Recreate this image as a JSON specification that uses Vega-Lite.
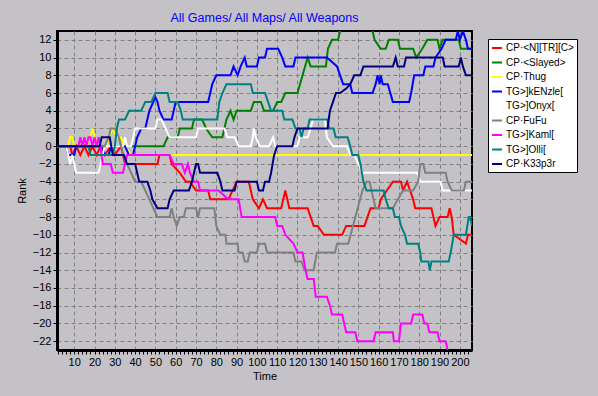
{
  "$schema": "https://vega.github.io/schema/vega-lite/v6.json",
  "width": 415,
  "height": 319,
  "autosize": {"type": "none"},
  "padding": {"left": 57, "top": 31, "right": 126, "bottom": 46},
  "background": "#c4c2c6",
  "title": {"text": "All Games/ All Maps/ All Weapons", "color": "#0000ff", "font": "Liberation Sans", "fontSize": 12.5, "fontWeight": "normal", "anchor": "middle", "offset": 7},
  "config": {
    "view": {"stroke": "#000000", "strokeWidth": 2, "fill": "#c4c2c6"},
    "axis": {"labelFont": "Liberation Sans", "labelFontSize": 11, "labelColor": "#000", "titleFont": "Liberation Sans", "titleFontSize": 11, "titleFontWeight": "normal", "titleColor": "#000", "domainColor": "#000", "domainWidth": 3, "tickColor": "#000", "tickSize": 4, "gridColor": "#808080", "gridDash": [4, 3], "gridWidth": 1, "labelPadding": 2}
  },
  "data": {"values": [
    {"s":"CP·<N][TR][C>","t":1,"r":0},{"s":"CP·<N][TR][C>","t":8,"r":0},{"s":"CP·<N][TR][C>","t":9,"r":-1},{"s":"CP·<N][TR][C>","t":11,"r":0},{"s":"CP·<N][TR][C>","t":13,"r":-1},{"s":"CP·<N][TR][C>","t":15,"r":0},{"s":"CP·<N][TR][C>","t":17,"r":-1},{"s":"CP·<N][TR][C>","t":19,"r":0},{"s":"CP·<N][TR][C>","t":21,"r":-1},{"s":"CP·<N][TR][C>","t":23,"r":0},{"s":"CP·<N][TR][C>","t":25,"r":-1},{"s":"CP·<N][TR][C>","t":28,"r":0},{"s":"CP·<N][TR][C>","t":30,"r":-1},{"s":"CP·<N][TR][C>","t":33,"r":0},{"s":"CP·<N][TR][C>","t":35,"r":-2},{"s":"CP·<N][TR][C>","t":51,"r":-2},{"s":"CP·<N][TR][C>","t":52,"r":-1},{"s":"CP·<N][TR][C>","t":57,"r":-1},{"s":"CP·<N][TR][C>","t":58,"r":-2},{"s":"CP·<N][TR][C>","t":62,"r":-3},{"s":"CP·<N][TR][C>","t":65,"r":-4},{"s":"CP·<N][TR][C>","t":67,"r":-4},{"s":"CP·<N][TR][C>","t":70,"r":-5},{"s":"CP·<N][TR][C>","t":76,"r":-5},{"s":"CP·<N][TR][C>","t":77,"r":-6},{"s":"CP·<N][TR][C>","t":86,"r":-6},{"s":"CP·<N][TR][C>","t":90,"r":-4},{"s":"CP·<N][TR][C>","t":96,"r":-4},{"s":"CP·<N][TR][C>","t":98,"r":-6},{"s":"CP·<N][TR][C>","t":101,"r":-7},{"s":"CP·<N][TR][C>","t":103,"r":-6},{"s":"CP·<N][TR][C>","t":105,"r":-7},{"s":"CP·<N][TR][C>","t":112,"r":-7},{"s":"CP·<N][TR][C>","t":114,"r":-5},{"s":"CP·<N][TR][C>","t":116,"r":-7},{"s":"CP·<N][TR][C>","t":125,"r":-7},{"s":"CP·<N][TR][C>","t":128,"r":-9},{"s":"CP·<N][TR][C>","t":130,"r":-9},{"s":"CP·<N][TR][C>","t":133,"r":-10},{"s":"CP·<N][TR][C>","t":142,"r":-10},{"s":"CP·<N][TR][C>","t":144,"r":-9},{"s":"CP·<N][TR][C>","t":153,"r":-9},{"s":"CP·<N][TR][C>","t":156,"r":-7},{"s":"CP·<N][TR][C>","t":160,"r":-7},{"s":"CP·<N][TR][C>","t":161,"r":-6},{"s":"CP·<N][TR][C>","t":167,"r":-4},{"s":"CP·<N][TR][C>","t":171,"r":-4},{"s":"CP·<N][TR][C>","t":172,"r":-5},{"s":"CP·<N][TR][C>","t":174,"r":-4},{"s":"CP·<N][TR][C>","t":177,"r":-6},{"s":"CP·<N][TR][C>","t":178,"r":-7},{"s":"CP·<N][TR][C>","t":186,"r":-7},{"s":"CP·<N][TR][C>","t":188,"r":-9},{"s":"CP·<N][TR][C>","t":190,"r":-8},{"s":"CP·<N][TR][C>","t":194,"r":-8},{"s":"CP·<N][TR][C>","t":195,"r":-7},{"s":"CP·<N][TR][C>","t":196,"r":-8},{"s":"CP·<N][TR][C>","t":197,"r":-10},{"s":"CP·<N][TR][C>","t":203,"r":-11},{"s":"CP·<N][TR][C>","t":204,"r":-10},{"s":"CP·<N][TR][C>","t":206,"r":-10},
    {"s":"CP·<Slayed>","t":1,"r":0},{"s":"CP·<Slayed>","t":54,"r":0},{"s":"CP·<Slayed>","t":56,"r":1},{"s":"CP·<Slayed>","t":61,"r":1},{"s":"CP·<Slayed>","t":62,"r":2},{"s":"CP·<Slayed>","t":68,"r":2},{"s":"CP·<Slayed>","t":69,"r":3},{"s":"CP·<Slayed>","t":73,"r":3},{"s":"CP·<Slayed>","t":75,"r":2},{"s":"CP·<Slayed>","t":78,"r":1},{"s":"CP·<Slayed>","t":83,"r":1},{"s":"CP·<Slayed>","t":85,"r":3},{"s":"CP·<Slayed>","t":87,"r":4},{"s":"CP·<Slayed>","t":88.5,"r":3},{"s":"CP·<Slayed>","t":90,"r":4},{"s":"CP·<Slayed>","t":97,"r":4},{"s":"CP·<Slayed>","t":98.5,"r":5},{"s":"CP·<Slayed>","t":102,"r":5},{"s":"CP·<Slayed>","t":103.5,"r":4},{"s":"CP·<Slayed>","t":108,"r":4},{"s":"CP·<Slayed>","t":110,"r":5},{"s":"CP·<Slayed>","t":112,"r":5},{"s":"CP·<Slayed>","t":114,"r":6},{"s":"CP·<Slayed>","t":120,"r":6},{"s":"CP·<Slayed>","t":125,"r":10},{"s":"CP·<Slayed>","t":126.5,"r":9},{"s":"CP·<Slayed>","t":134,"r":9},{"s":"CP·<Slayed>","t":135,"r":11},{"s":"CP·<Slayed>","t":137,"r":12},{"s":"CP·<Slayed>","t":140,"r":12},{"s":"CP·<Slayed>","t":142,"r":14},{"s":"CP·<Slayed>","t":156,"r":14},{"s":"CP·<Slayed>","t":158,"r":12},{"s":"CP·<Slayed>","t":161,"r":11},{"s":"CP·<Slayed>","t":163.5,"r":11},{"s":"CP·<Slayed>","t":165,"r":12},{"s":"CP·<Slayed>","t":169.5,"r":12},{"s":"CP·<Slayed>","t":170.5,"r":11},{"s":"CP·<Slayed>","t":177,"r":11},{"s":"CP·<Slayed>","t":178.5,"r":10},{"s":"CP·<Slayed>","t":181.5,"r":11},{"s":"CP·<Slayed>","t":184,"r":12},{"s":"CP·<Slayed>","t":189,"r":12},{"s":"CP·<Slayed>","t":190,"r":11},{"s":"CP·<Slayed>","t":191.5,"r":12},{"s":"CP·<Slayed>","t":199.5,"r":12},{"s":"CP·<Slayed>","t":200.5,"r":11},{"s":"CP·<Slayed>","t":206,"r":11},
    {"s":"CP·Thug","t":1,"r":0},{"s":"CP·Thug","t":7,"r":0},{"s":"CP·Thug","t":8,"r":1},{"s":"CP·Thug","t":9,"r":1},{"s":"CP·Thug","t":10,"r":0},{"s":"CP·Thug","t":16,"r":0},{"s":"CP·Thug","t":17,"r":1},{"s":"CP·Thug","t":18,"r":1},{"s":"CP·Thug","t":19,"r":2},{"s":"CP·Thug","t":20,"r":1},{"s":"CP·Thug","t":21,"r":0},{"s":"CP·Thug","t":26,"r":0},{"s":"CP·Thug","t":27,"r":1},{"s":"CP·Thug","t":29,"r":2},{"s":"CP·Thug","t":31,"r":1},{"s":"CP·Thug","t":33,"r":1},{"s":"CP·Thug","t":35,"r":0},{"s":"CP·Thug","t":38,"r":-1},{"s":"CP·Thug","t":206,"r":-1},
    {"s":"TG>]kENzle[","t":1,"r":0},{"s":"TG>]kENzle[","t":6,"r":0},{"s":"TG>]kENzle[","t":7,"r":-1},{"s":"TG>]kENzle[","t":10,"r":-1},{"s":"TG>]kENzle[","t":11,"r":0},{"s":"TG>]kENzle[","t":24,"r":0},{"s":"TG>]kENzle[","t":25,"r":-1},{"s":"TG>]kENzle[","t":27,"r":-1},{"s":"TG>]kENzle[","t":28,"r":0},{"s":"TG>]kENzle[","t":35,"r":0},{"s":"TG>]kENzle[","t":37,"r":-1},{"s":"TG>]kENzle[","t":39,"r":-1},{"s":"TG>]kENzle[","t":41,"r":1},{"s":"TG>]kENzle[","t":43,"r":2},{"s":"TG>]kENzle[","t":45,"r":2},{"s":"TG>]kENzle[","t":47,"r":4},{"s":"TG>]kENzle[","t":49,"r":5},{"s":"TG>]kENzle[","t":50,"r":5.5},{"s":"TG>]kENzle[","t":51,"r":5},{"s":"TG>]kENzle[","t":52,"r":4},{"s":"TG>]kENzle[","t":54,"r":3},{"s":"TG>]kENzle[","t":58,"r":3},{"s":"TG>]kENzle[","t":60,"r":5},{"s":"TG>]kENzle[","t":76,"r":5},{"s":"TG>]kENzle[","t":78,"r":7},{"s":"TG>]kENzle[","t":80,"r":8},{"s":"TG>]kENzle[","t":87,"r":8},{"s":"TG>]kENzle[","t":88.5,"r":9},{"s":"TG>]kENzle[","t":90.5,"r":8},{"s":"TG>]kENzle[","t":92,"r":9},{"s":"TG>]kENzle[","t":94,"r":10},{"s":"TG>]kENzle[","t":95,"r":9},{"s":"TG>]kENzle[","t":100,"r":9},{"s":"TG>]kENzle[","t":101,"r":10},{"s":"TG>]kENzle[","t":104,"r":10},{"s":"TG>]kENzle[","t":105,"r":11},{"s":"TG>]kENzle[","t":110.5,"r":11},{"s":"TG>]kENzle[","t":112.5,"r":10},{"s":"TG>]kENzle[","t":114,"r":9},{"s":"TG>]kENzle[","t":118,"r":9},{"s":"TG>]kENzle[","t":119,"r":10},{"s":"TG>]kENzle[","t":134.5,"r":10},{"s":"TG>]kENzle[","t":139.5,"r":9},{"s":"TG>]kENzle[","t":141,"r":8},{"s":"TG>]kENzle[","t":142.5,"r":7},{"s":"TG>]kENzle[","t":146,"r":7},{"s":"TG>]kENzle[","t":147,"r":6},{"s":"TG>]kENzle[","t":157,"r":6},{"s":"TG>]kENzle[","t":158.5,"r":7},{"s":"TG>]kENzle[","t":159.5,"r":8},{"s":"TG>]kENzle[","t":160.5,"r":7},{"s":"TG>]kENzle[","t":161,"r":8},{"s":"TG>]kENzle[","t":162,"r":7},{"s":"TG>]kENzle[","t":164.5,"r":7},{"s":"TG>]kENzle[","t":167,"r":5},{"s":"TG>]kENzle[","t":175,"r":5},{"s":"TG>]kENzle[","t":176,"r":6},{"s":"TG>]kENzle[","t":177.5,"r":8},{"s":"TG>]kENzle[","t":182,"r":8},{"s":"TG>]kENzle[","t":183,"r":9},{"s":"TG>]kENzle[","t":187,"r":9},{"s":"TG>]kENzle[","t":188,"r":10},{"s":"TG>]kENzle[","t":191,"r":11},{"s":"TG>]kENzle[","t":193,"r":12},{"s":"TG>]kENzle[","t":198,"r":12},{"s":"TG>]kENzle[","t":199,"r":13},{"s":"TG>]kENzle[","t":200,"r":12},{"s":"TG>]kENzle[","t":201.5,"r":13},{"s":"TG>]kENzle[","t":203,"r":12},{"s":"TG>]kENzle[","t":204,"r":11},{"s":"TG>]kENzle[","t":206,"r":11},
    {"s":"TG>]Onyx[","t":1,"r":0},{"s":"TG>]Onyx[","t":6,"r":0},{"s":"TG>]Onyx[","t":7,"r":-1},{"s":"TG>]Onyx[","t":8,"r":-2},{"s":"TG>]Onyx[","t":9,"r":-1},{"s":"TG>]Onyx[","t":10,"r":-2},{"s":"TG>]Onyx[","t":11,"r":-3},{"s":"TG>]Onyx[","t":22,"r":-3},{"s":"TG>]Onyx[","t":24,"r":-1},{"s":"TG>]Onyx[","t":25,"r":0},{"s":"TG>]Onyx[","t":34,"r":0},{"s":"TG>]Onyx[","t":35,"r":1},{"s":"TG>]Onyx[","t":36,"r":0},{"s":"TG>]Onyx[","t":38,"r":0},{"s":"TG>]Onyx[","t":40,"r":2},{"s":"TG>]Onyx[","t":50,"r":2},{"s":"TG>]Onyx[","t":51,"r":3},{"s":"TG>]Onyx[","t":53,"r":3},{"s":"TG>]Onyx[","t":55,"r":2},{"s":"TG>]Onyx[","t":57,"r":1},{"s":"TG>]Onyx[","t":70,"r":1},{"s":"TG>]Onyx[","t":71,"r":2},{"s":"TG>]Onyx[","t":84,"r":2},{"s":"TG>]Onyx[","t":85.5,"r":1},{"s":"TG>]Onyx[","t":89,"r":1},{"s":"TG>]Onyx[","t":91,"r":0},{"s":"TG>]Onyx[","t":97,"r":0},{"s":"TG>]Onyx[","t":98,"r":1},{"s":"TG>]Onyx[","t":98.5,"r":2},{"s":"TG>]Onyx[","t":99.5,"r":1},{"s":"TG>]Onyx[","t":101.5,"r":0},{"s":"TG>]Onyx[","t":106,"r":0},{"s":"TG>]Onyx[","t":108,"r":1},{"s":"TG>]Onyx[","t":109,"r":0},{"s":"TG>]Onyx[","t":120,"r":0},{"s":"TG>]Onyx[","t":121,"r":1},{"s":"TG>]Onyx[","t":125,"r":1},{"s":"TG>]Onyx[","t":126.5,"r":2},{"s":"TG>]Onyx[","t":127.5,"r":3},{"s":"TG>]Onyx[","t":133.5,"r":3},{"s":"TG>]Onyx[","t":134.5,"r":1},{"s":"TG>]Onyx[","t":137.5,"r":0},{"s":"TG>]Onyx[","t":144.5,"r":0},{"s":"TG>]Onyx[","t":146,"r":-1},{"s":"TG>]Onyx[","t":148,"r":-1},{"s":"TG>]Onyx[","t":150,"r":-2},{"s":"TG>]Onyx[","t":152,"r":-3},{"s":"TG>]Onyx[","t":179,"r":-3},{"s":"TG>]Onyx[","t":180.5,"r":-4},{"s":"TG>]Onyx[","t":190.5,"r":-4},{"s":"TG>]Onyx[","t":191.5,"r":-5},{"s":"TG>]Onyx[","t":206,"r":-5},
    {"s":"CP·FuFu","t":1,"r":0},{"s":"CP·FuFu","t":25,"r":0},{"s":"CP·FuFu","t":27,"r":1},{"s":"CP·FuFu","t":28,"r":2},{"s":"CP·FuFu","t":30,"r":2},{"s":"CP·FuFu","t":32,"r":1},{"s":"CP·FuFu","t":34,"r":-1},{"s":"CP·FuFu","t":36,"r":-2},{"s":"CP·FuFu","t":38,"r":-3},{"s":"CP·FuFu","t":40,"r":-4},{"s":"CP·FuFu","t":43,"r":-4},{"s":"CP·FuFu","t":45,"r":-5},{"s":"CP·FuFu","t":47,"r":-6},{"s":"CP·FuFu","t":49,"r":-7},{"s":"CP·FuFu","t":51,"r":-8},{"s":"CP·FuFu","t":57,"r":-8},{"s":"CP·FuFu","t":58,"r":-7},{"s":"CP·FuFu","t":59,"r":-8},{"s":"CP·FuFu","t":60.5,"r":-9},{"s":"CP·FuFu","t":62,"r":-8},{"s":"CP·FuFu","t":64,"r":-8},{"s":"CP·FuFu","t":65,"r":-7},{"s":"CP·FuFu","t":70,"r":-7},{"s":"CP·FuFu","t":71,"r":-8},{"s":"CP·FuFu","t":72,"r":-7},{"s":"CP·FuFu","t":79,"r":-7},{"s":"CP·FuFu","t":80,"r":-9},{"s":"CP·FuFu","t":82,"r":-10},{"s":"CP·FuFu","t":84.5,"r":-10},{"s":"CP·FuFu","t":85,"r":-11},{"s":"CP·FuFu","t":90.5,"r":-11},{"s":"CP·FuFu","t":91,"r":-12},{"s":"CP·FuFu","t":93,"r":-12},{"s":"CP·FuFu","t":94,"r":-13},{"s":"CP·FuFu","t":95.5,"r":-13},{"s":"CP·FuFu","t":96.5,"r":-12},{"s":"CP·FuFu","t":100,"r":-12},{"s":"CP·FuFu","t":101,"r":-11},{"s":"CP·FuFu","t":104,"r":-11},{"s":"CP·FuFu","t":105,"r":-12},{"s":"CP·FuFu","t":118,"r":-12},{"s":"CP·FuFu","t":119,"r":-13},{"s":"CP·FuFu","t":122,"r":-13},{"s":"CP·FuFu","t":123.5,"r":-14},{"s":"CP·FuFu","t":128,"r":-14},{"s":"CP·FuFu","t":129.5,"r":-12},{"s":"CP·FuFu","t":138.5,"r":-12},{"s":"CP·FuFu","t":139.5,"r":-11},{"s":"CP·FuFu","t":145,"r":-11},{"s":"CP·FuFu","t":152,"r":-5},{"s":"CP·FuFu","t":154,"r":-4},{"s":"CP·FuFu","t":155.5,"r":-4},{"s":"CP·FuFu","t":158.5,"r":-7},{"s":"CP·FuFu","t":167,"r":-7},{"s":"CP·FuFu","t":169.5,"r":-6},{"s":"CP·FuFu","t":172,"r":-5},{"s":"CP·FuFu","t":177,"r":-5},{"s":"CP·FuFu","t":179.5,"r":-4},{"s":"CP·FuFu","t":180.5,"r":-2},{"s":"CP·FuFu","t":182,"r":-2},{"s":"CP·FuFu","t":183,"r":-3},{"s":"CP·FuFu","t":193,"r":-3},{"s":"CP·FuFu","t":194,"r":-4},{"s":"CP·FuFu","t":196,"r":-5},{"s":"CP·FuFu","t":202,"r":-5},{"s":"CP·FuFu","t":203,"r":-4},{"s":"CP·FuFu","t":206,"r":-4},
    {"s":"TG>]Kaml[","t":1,"r":0},{"s":"TG>]Kaml[","t":12,"r":0},{"s":"TG>]Kaml[","t":13,"r":1},{"s":"TG>]Kaml[","t":14,"r":0},{"s":"TG>]Kaml[","t":15,"r":1},{"s":"TG>]Kaml[","t":16,"r":0},{"s":"TG>]Kaml[","t":17,"r":1},{"s":"TG>]Kaml[","t":18,"r":1},{"s":"TG>]Kaml[","t":19,"r":0},{"s":"TG>]Kaml[","t":20,"r":1},{"s":"TG>]Kaml[","t":21,"r":0},{"s":"TG>]Kaml[","t":22,"r":1},{"s":"TG>]Kaml[","t":23,"r":0},{"s":"TG>]Kaml[","t":24,"r":-2},{"s":"TG>]Kaml[","t":28,"r":-2},{"s":"TG>]Kaml[","t":29,"r":-3},{"s":"TG>]Kaml[","t":34,"r":-3},{"s":"TG>]Kaml[","t":36,"r":-1},{"s":"TG>]Kaml[","t":57,"r":-1},{"s":"TG>]Kaml[","t":59,"r":-2},{"s":"TG>]Kaml[","t":63,"r":-2},{"s":"TG>]Kaml[","t":64.5,"r":-3},{"s":"TG>]Kaml[","t":66,"r":-2},{"s":"TG>]Kaml[","t":67,"r":-3},{"s":"TG>]Kaml[","t":69,"r":-4},{"s":"TG>]Kaml[","t":71,"r":-4},{"s":"TG>]Kaml[","t":72,"r":-5},{"s":"TG>]Kaml[","t":81,"r":-5},{"s":"TG>]Kaml[","t":86,"r":-6},{"s":"TG>]Kaml[","t":91,"r":-6},{"s":"TG>]Kaml[","t":92.5,"r":-8},{"s":"TG>]Kaml[","t":109,"r":-8},{"s":"TG>]Kaml[","t":110,"r":-9},{"s":"TG>]Kaml[","t":112.5,"r":-9},{"s":"TG>]Kaml[","t":114,"r":-10},{"s":"TG>]Kaml[","t":118,"r":-11},{"s":"TG>]Kaml[","t":120,"r":-12},{"s":"TG>]Kaml[","t":122.5,"r":-12},{"s":"TG>]Kaml[","t":124,"r":-14},{"s":"TG>]Kaml[","t":125,"r":-15},{"s":"TG>]Kaml[","t":128,"r":-15},{"s":"TG>]Kaml[","t":129,"r":-17},{"s":"TG>]Kaml[","t":134.5,"r":-17},{"s":"TG>]Kaml[","t":136,"r":-18},{"s":"TG>]Kaml[","t":137,"r":-19},{"s":"TG>]Kaml[","t":142,"r":-19},{"s":"TG>]Kaml[","t":143,"r":-20},{"s":"TG>]Kaml[","t":144,"r":-21},{"s":"TG>]Kaml[","t":148.5,"r":-21},{"s":"TG>]Kaml[","t":149.5,"r":-22},{"s":"TG>]Kaml[","t":157.5,"r":-22},{"s":"TG>]Kaml[","t":158.5,"r":-21},{"s":"TG>]Kaml[","t":167,"r":-21},{"s":"TG>]Kaml[","t":167.5,"r":-22},{"s":"TG>]Kaml[","t":170,"r":-22},{"s":"TG>]Kaml[","t":171,"r":-20},{"s":"TG>]Kaml[","t":176,"r":-20},{"s":"TG>]Kaml[","t":177,"r":-19},{"s":"TG>]Kaml[","t":181.5,"r":-19},{"s":"TG>]Kaml[","t":182.5,"r":-20},{"s":"TG>]Kaml[","t":184,"r":-20},{"s":"TG>]Kaml[","t":185,"r":-21},{"s":"TG>]Kaml[","t":189,"r":-21},{"s":"TG>]Kaml[","t":190,"r":-22},{"s":"TG>]Kaml[","t":193,"r":-22},{"s":"TG>]Kaml[","t":195,"r":-24},{"s":"TG>]Kaml[","t":206,"r":-25},
    {"s":"TG>]Olli[","t":1,"r":0},{"s":"TG>]Olli[","t":17,"r":0},{"s":"TG>]Olli[","t":18,"r":-1},{"s":"TG>]Olli[","t":29,"r":-1},{"s":"TG>]Olli[","t":30,"r":0},{"s":"TG>]Olli[","t":31,"r":2},{"s":"TG>]Olli[","t":32,"r":3},{"s":"TG>]Olli[","t":35,"r":3},{"s":"TG>]Olli[","t":37,"r":4},{"s":"TG>]Olli[","t":43,"r":4},{"s":"TG>]Olli[","t":45,"r":5},{"s":"TG>]Olli[","t":48,"r":5},{"s":"TG>]Olli[","t":50,"r":6},{"s":"TG>]Olli[","t":56,"r":6},{"s":"TG>]Olli[","t":57,"r":5},{"s":"TG>]Olli[","t":61,"r":5},{"s":"TG>]Olli[","t":62.5,"r":4},{"s":"TG>]Olli[","t":63.5,"r":3},{"s":"TG>]Olli[","t":80.5,"r":3},{"s":"TG>]Olli[","t":81.5,"r":5},{"s":"TG>]Olli[","t":83,"r":6},{"s":"TG>]Olli[","t":85,"r":7},{"s":"TG>]Olli[","t":97,"r":7},{"s":"TG>]Olli[","t":98,"r":6},{"s":"TG>]Olli[","t":104,"r":6},{"s":"TG>]Olli[","t":105.5,"r":5},{"s":"TG>]Olli[","t":107,"r":4},{"s":"TG>]Olli[","t":112.5,"r":4},{"s":"TG>]Olli[","t":113.5,"r":3},{"s":"TG>]Olli[","t":117.5,"r":3},{"s":"TG>]Olli[","t":119,"r":2},{"s":"TG>]Olli[","t":121,"r":2},{"s":"TG>]Olli[","t":122,"r":1},{"s":"TG>]Olli[","t":123,"r":2},{"s":"TG>]Olli[","t":125,"r":2},{"s":"TG>]Olli[","t":126,"r":3},{"s":"TG>]Olli[","t":134.8,"r":3},{"s":"TG>]Olli[","t":135.5,"r":2},{"s":"TG>]Olli[","t":137.8,"r":2},{"s":"TG>]Olli[","t":138.8,"r":1},{"s":"TG>]Olli[","t":144.7,"r":1},{"s":"TG>]Olli[","t":146,"r":0},{"s":"TG>]Olli[","t":147,"r":-1},{"s":"TG>]Olli[","t":150,"r":-1},{"s":"TG>]Olli[","t":151,"r":-2},{"s":"TG>]Olli[","t":152.5,"r":-4},{"s":"TG>]Olli[","t":154,"r":-5},{"s":"TG>]Olli[","t":162.5,"r":-5},{"s":"TG>]Olli[","t":163.5,"r":-6},{"s":"TG>]Olli[","t":165,"r":-7},{"s":"TG>]Olli[","t":167,"r":-7},{"s":"TG>]Olli[","t":168,"r":-8},{"s":"TG>]Olli[","t":170,"r":-8},{"s":"TG>]Olli[","t":171,"r":-9},{"s":"TG>]Olli[","t":173,"r":-10},{"s":"TG>]Olli[","t":174,"r":-11},{"s":"TG>]Olli[","t":179.5,"r":-11},{"s":"TG>]Olli[","t":180.5,"r":-12},{"s":"TG>]Olli[","t":181,"r":-13},{"s":"TG>]Olli[","t":184.5,"r":-13},{"s":"TG>]Olli[","t":185.2,"r":-14},{"s":"TG>]Olli[","t":186,"r":-13},{"s":"TG>]Olli[","t":194.5,"r":-13},{"s":"TG>]Olli[","t":195.5,"r":-12},{"s":"TG>]Olli[","t":197,"r":-10},{"s":"TG>]Olli[","t":203,"r":-10},{"s":"TG>]Olli[","t":204.4,"r":-8},{"s":"TG>]Olli[","t":205,"r":-8},{"s":"TG>]Olli[","t":206,"r":-9},
    {"s":"CP·K33p3r","t":1,"r":0},{"s":"CP·K33p3r","t":22.5,"r":0},{"s":"CP·K33p3r","t":23.5,"r":1},{"s":"CP·K33p3r","t":27.5,"r":1},{"s":"CP·K33p3r","t":29,"r":-1},{"s":"CP·K33p3r","t":34.5,"r":-1},{"s":"CP·K33p3r","t":36,"r":-2},{"s":"CP·K33p3r","t":40,"r":-2},{"s":"CP·K33p3r","t":41,"r":-3},{"s":"CP·K33p3r","t":42,"r":-4},{"s":"CP·K33p3r","t":46,"r":-4},{"s":"CP·K33p3r","t":47.5,"r":-5},{"s":"CP·K33p3r","t":48.5,"r":-6},{"s":"CP·K33p3r","t":51,"r":-7},{"s":"CP·K33p3r","t":56,"r":-7},{"s":"CP·K33p3r","t":57,"r":-6},{"s":"CP·K33p3r","t":59,"r":-5},{"s":"CP·K33p3r","t":66.5,"r":-5},{"s":"CP·K33p3r","t":68,"r":-4},{"s":"CP·K33p3r","t":70,"r":-2},{"s":"CP·K33p3r","t":71,"r":-2},{"s":"CP·K33p3r","t":72,"r":-3},{"s":"CP·K33p3r","t":80.5,"r":-3},{"s":"CP·K33p3r","t":82,"r":-4},{"s":"CP·K33p3r","t":83,"r":-5},{"s":"CP·K33p3r","t":89,"r":-5},{"s":"CP·K33p3r","t":90,"r":-4},{"s":"CP·K33p3r","t":100,"r":-4},{"s":"CP·K33p3r","t":101,"r":-5},{"s":"CP·K33p3r","t":103,"r":-5},{"s":"CP·K33p3r","t":104,"r":-4},{"s":"CP·K33p3r","t":106,"r":-4},{"s":"CP·K33p3r","t":107,"r":-3},{"s":"CP·K33p3r","t":108.5,"r":-1},{"s":"CP·K33p3r","t":110,"r":0},{"s":"CP·K33p3r","t":117.5,"r":0},{"s":"CP·K33p3r","t":118.5,"r":1},{"s":"CP·K33p3r","t":120,"r":2},{"s":"CP·K33p3r","t":134.8,"r":2},{"s":"CP·K33p3r","t":136,"r":4},{"s":"CP·K33p3r","t":137.5,"r":5},{"s":"CP·K33p3r","t":139,"r":6},{"s":"CP·K33p3r","t":141,"r":6},{"s":"CP·K33p3r","t":144,"r":6.5},{"s":"CP·K33p3r","t":146,"r":7},{"s":"CP·K33p3r","t":148,"r":8},{"s":"CP·K33p3r","t":151,"r":8},{"s":"CP·K33p3r","t":152.5,"r":9},{"s":"CP·K33p3r","t":167,"r":9},{"s":"CP·K33p3r","t":168.4,"r":10},{"s":"CP·K33p3r","t":169.4,"r":9},{"s":"CP·K33p3r","t":172.5,"r":9},{"s":"CP·K33p3r","t":173.5,"r":10},{"s":"CP·K33p3r","t":191.6,"r":10},{"s":"CP·K33p3r","t":192.5,"r":9},{"s":"CP·K33p3r","t":199.5,"r":9},{"s":"CP·K33p3r","t":200.5,"r":10},{"s":"CP·K33p3r","t":201.5,"r":9},{"s":"CP·K33p3r","t":203,"r":8},{"s":"CP·K33p3r","t":206,"r":8}
  ]},
  "mark": {"type": "line", "strokeWidth": 2, "clip": true, "interpolate": "linear"},
  "encoding": {
    "x": {"field": "t", "type": "quantitative", "title": "Time",
      "scale": {"domain": [1.5, 206], "nice": false, "zero": false},
      "axis": {"values": [2,4,6,8,10,12,14,16,18,20,22,24,26,28,30,32,34,36,38,40,42,44,46,48,50,52,54,56,58,60,62,64,66,68,70,72,74,76,78,80,82,84,86,88,90,92,94,96,98,100,102,104,106,108,110,112,114,116,118,120,122,124,126,128,130,132,134,136,138,140,142,144,146,148,150,152,154,156,158,160,162,164,166,168,170,172,174,176,178,180,182,184,186,188,190,192,194,196,198,200,202,204],
        "labelExpr": "datum.value % 10 === 0 ? datum.label : ''", "labelOverlap": false, "labelFlush": false,
        "gridOpacity": {"condition": {"test": "datum.value % 10 === 0", "value": 1}, "value": 0},
        "titlePadding": 3}},
    "y": {"field": "r", "type": "quantitative", "title": "Rank",
      "scale": {"domain": [-23, 13], "nice": false, "zero": false},
      "axis": {"values": [-22,-20,-18,-16,-14,-12,-10,-8,-6,-4,-2,0,2,4,6,8,10,12], "labelOverlap": false, "labelFlush": false, "titlePadding": 5}},
    "color": {"field": "s", "type": "nominal",
      "scale": {"domain": ["CP·<N][TR][C>","CP·<Slayed>","CP·Thug","TG>]kENzle[","TG>]Onyx[","CP·FuFu","TG>]Kaml[","TG>]Olli[","CP·K33p3r"],
        "range": ["#ff0000","#008000","#ffff00","#0000ff","#ffffff","#808080","#ff00ff","#008080","#000080"]},
      "legend": {"title": null, "orient": "none", "legendX": 431, "legendY": 8, "fillColor": "#ffffff", "strokeColor": "#000000", "padding": 3, "symbolType": "stroke", "symbolStrokeWidth": 2, "symbolSize": 100, "labelFont": "Liberation Sans", "labelFontSize": 10, "labelColor": "#000", "rowPadding": 3.5, "labelOffset": 3}}
  }
}
